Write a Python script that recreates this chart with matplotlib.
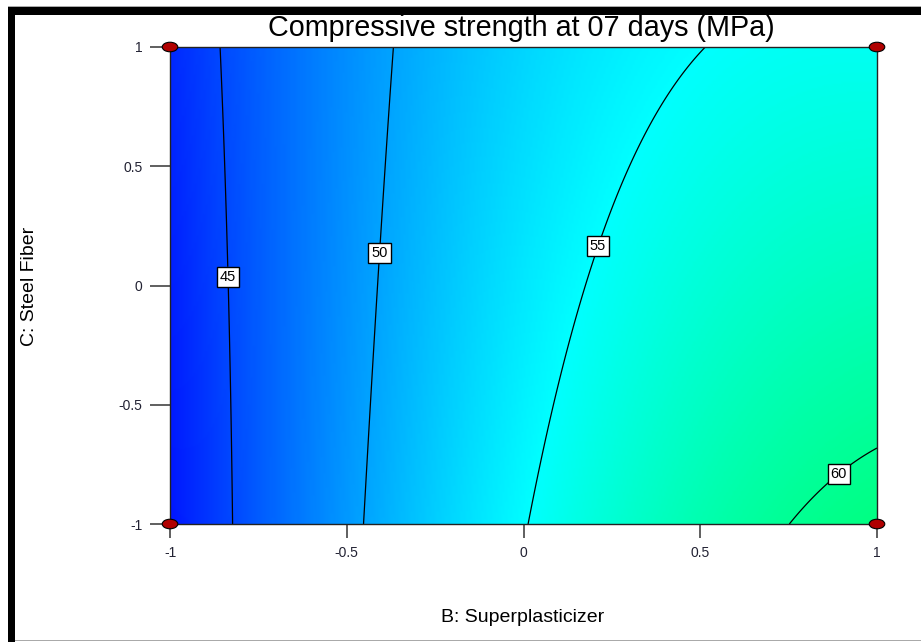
#
# Contour plot - compressive strength at 7 days vs B and C (coded units)
#
import numpy as np
import matplotlib.pyplot as plt
from matplotlib.colors import LinearSegmentedColormap
from matplotlib.patches import Rectangle, Ellipse

plt.rcParams['font.family'] = ['Liberation Sans', 'DejaVu Sans']

# Fitted quadratic model (coded factors B and C)
terms = ['1', 'B', 'C', 'BC', 'B^2', 'C^2']
coefs = [53.75, 7.72, -1.085, -1.57, -3.3, 0.045]

contour_levels = [45, 50, 55, 60]
label_B = [-0.84, -0.417, 0.199, 0.878]
label_C = [0.036, 0.136, 0.170, -0.765]

design_B = [-1, 1, -1, 1]
design_C = [-1, -1, 1, 1]

ticks = [-1, -0.5, 0, 0.5, 1]
tick_labels = ['-1', '-0.5', '0', '0.5', '1']

title = 'Compressive strength at 07 days (MPa)'
xlabel = 'B: Superplasticizer'
ylabel = 'C: Steel Fiber'

# Response surface evaluation
def response(B, C):
    b0, b1, c1, bc, bb, cc = coefs
    return b0 + b1 * B + c1 * C + bc * B * C + bb * B**2 + cc * C**2

B, C = np.meshgrid(np.linspace(-1, 1, 300), np.linspace(-1, 1, 300))
Y = response(B, C)

# blue -> cyan -> green colour ramp
vmin, vmax = 41.0, 67.0
cmap = LinearSegmentedColormap.from_list(
    'de', [(0.0, (0, 0, 1)), ((55 - vmin) / (vmax - vmin), (0, 1, 1)), (1.0, (0, 1, 0))])

W, H = 921, 642
fig = plt.figure(figsize=(W / 100, H / 100), dpi=100)
ax = fig.add_axes([170 / W, 1 - 524 / H, 707 / W, 477 / H])

ax.imshow(Y, extent=[-1, 1, -1, 1], origin='lower', cmap=cmap, vmin=vmin, vmax=vmax,
          aspect='auto', interpolation='bilinear')
cs = ax.contour(B, C, Y, levels=contour_levels, colors='black', linewidths=0.9)
labels = ax.clabel(cs, fmt='%d', fontsize=10.5, inline=True, inline_spacing=2,
                   manual=list(zip(label_B, label_C)))
for t in labels:
    t.set_bbox(dict(boxstyle='square,pad=0.2', facecolor='white', edgecolor='black', linewidth=1))
    t.set_rotation(0)

# design points at the corners
for b, c in zip(design_B, design_C):
    ax.add_patch(Ellipse((b, c), 0.044, 0.04, facecolor='#b00000', edgecolor='black',
                         linewidth=0.8, clip_on=False, zorder=10))

ax.set_xlim(-1, 1)
ax.set_ylim(-1, 1)
ax.set_xticks(ticks)
ax.set_xticklabels(tick_labels)
ax.set_yticks(ticks)
ax.set_yticklabels(tick_labels)
ax.tick_params(axis='y', length=14.4, width=1.2, pad=5.5, color='#444444', labelsize=10, labelcolor='#222233')
ax.tick_params(axis='x', length=10, width=1.2, pad=5.5, color='#444444', labelsize=10, labelcolor='#222233')
for s in ax.spines.values():
    s.set_linewidth(1.0)
    s.set_color('#222222')

fig.text(521 / W, 1 - 28 / H, title, fontsize=20.7, ha='center', va='center')
fig.text(523 / W, 1 - 617 / H, xlabel, fontsize=14, ha='center', va='center')
fig.text(30 / W, 1 - 286 / H, ylabel, fontsize=14, ha='center', va='center', rotation=90)

# window frame
fig.add_artist(Rectangle((8 / W, 1 - 15 / H), 1, 8 / H, transform=fig.transFigure,
                         facecolor='black', edgecolor='none'))
fig.add_artist(Rectangle((8 / W, 0), 7 / W, 1 - 7 / H, transform=fig.transFigure,
                         facecolor='black', edgecolor='none'))
fig.add_artist(Rectangle((8 / W, 1 - 7 / H), 1, 1.2 / H, transform=fig.transFigure,
                         facecolor='#aaaaaa', edgecolor='none'))
fig.add_artist(Rectangle((15 / W, 1 / H), 1, 1.2 / H, transform=fig.transFigure,
                         facecolor='#aaaaaa', edgecolor='none'))

fig.savefig('out.png', dpi=100)
